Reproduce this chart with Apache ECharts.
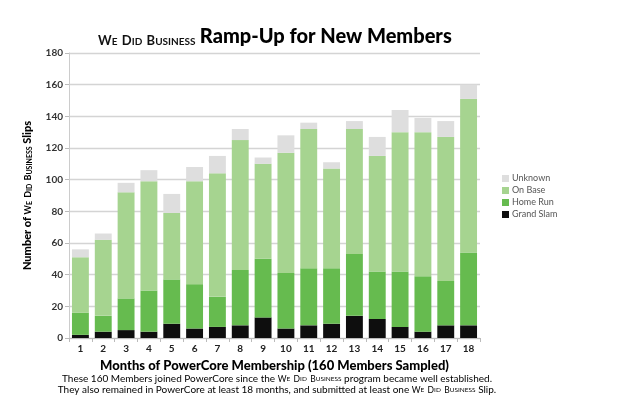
<!DOCTYPE html>
<html><head><meta charset="utf-8">
<script src="https://cdn.jsdelivr.net/npm/echarts@6/dist/echarts.min.js"></script>
<style>html,body{margin:0;padding:0;background:#fff}#c{width:642px;height:400px}</style>
</head><body><div id="c"></div>
<script>
const months = ['1','2','3','4','5','6','7','8','9','10','11','12','13','14','15','16','17','18'];
const grandSlam = [2,4,5,4,9,6,7,8,13,6,8,9,14,12,7,4,8,8];
const homeRun   = [14,10,20,26,28,28,19,35,37,35,36,35,39,30,35,35,28,46];
const onBase    = [35,48,67,69,42,65,78,82,60,76,88,63,79,73,88,91,91,97];
const unknown   = [5,4,6,7,12,9,11,7,4,11,4,4,5,12,14,9,10,9];
const legendOrder = ['Unknown','On Base','Home Run','Grand Slam'];
const yMin = 0, yMax = 180, yStep = 20;

const FONT = 'Lato';
const colors = {'Grand Slam':'#0e0e0e','Home Run':'#66bb4f','On Base':'#a6d490','Unknown':'#dedede'};
const chart = echarts.init(document.getElementById('c'));
const mk = (name, data) => ({
  name, type:'bar', stack:'s', data, barWidth:'74%',
  itemStyle:{color:colors[name]}, emphasis:{disabled:true}
});
const footRich = {
  n:{fontFamily:FONT,fontSize:10,color:'#111',lineHeight:11},
  a:{fontFamily:FONT,fontSize:8.5,color:'#111',lineHeight:11},
  b:{fontFamily:FONT,fontSize:6.5,color:'#111',lineHeight:11}
};
chart.setOption({
  animation:false,
  textStyle:{fontFamily:FONT},
  title:{
    left:93, top:18,
    text:'{a|W}{b|E} {a|D}{b|ID} {a|B}{b|USINESS} {t|Ramp-Up for New Members}',
    textStyle:{rich:{
      a:{fontFamily:FONT,fontWeight:'bold',fontSize:13,color:'#111',verticalAlign:'bottom',lineHeight:24},
      b:{fontFamily:FONT,fontWeight:'bold',fontSize:10,color:'#111',verticalAlign:'bottom',lineHeight:24},
      t:{fontFamily:FONT,fontWeight:900,fontSize:20,color:'#000',verticalAlign:'bottom',lineHeight:24}
    }}
  },
  legend:{
    data:legendOrder, orient:'vertical', left:497, top:169,
    itemWidth:7, itemHeight:7, itemGap:3, icon:'rect',
    textStyle:{fontFamily:FONT,fontSize:9,color:'#555',padding:[0,0,0,-2]}
  },
  grid:{left:69, right:162, top:53, bottom:62, containLabel:false},
  xAxis:{
    type:'category', data:months,
    axisLine:{lineStyle:{color:'#bbb'}},
    axisTick:{show:true,length:4,lineStyle:{color:'#bbb'}},
    axisLabel:{fontFamily:FONT,fontWeight:'bold',fontSize:10,color:'#222',margin:6},
    name:'Months of PowerCore Membership (160 Members Sampled)',
    nameLocation:'middle', nameGap:15,
    nameTextStyle:{fontFamily:FONT,fontWeight:900,fontSize:13,color:'#000'}
  },
  yAxis:{
    type:'value', min:yMin, max:yMax, interval:yStep,
    axisLine:{show:true,lineStyle:{color:'#ccc'}},
    axisTick:{show:true,length:4,lineStyle:{color:'#bbb'}},
    splitLine:{lineStyle:{color:'#d4d4d4',width:1.3}},
    axisLabel:{fontFamily:FONT,fontWeight:'bold',fontSize:10,color:'#333',margin:6},
    name:'{n|Number of }{a|W}{b|E} {a|D}{b|ID} {a|B}{b|USINESS}{n| Slips}',
    nameLocation:'middle', nameGap:36, nameRotate:90,
    nameTextStyle:{rich:{
      n:{fontFamily:FONT,fontWeight:900,fontSize:11,color:'#000',verticalAlign:'bottom',lineHeight:14},
      a:{fontFamily:FONT,fontWeight:'bold',fontSize:9,color:'#000',verticalAlign:'bottom',lineHeight:14},
      b:{fontFamily:FONT,fontWeight:'bold',fontSize:7,color:'#000',verticalAlign:'bottom',lineHeight:14}
    }}
  },
  graphic:[
    {type:'text', x:277, y:373, style:{
      text:'{n|These 160 Members joined PowerCore since the }{a|W}{b|E} {a|D}{b|ID} {a|B}{b|USINESS}{n| program became well established.}',
      align:'center', verticalAlign:'top', rich:footRich
    }},
    {type:'text', x:277, y:384, style:{
      text:'{n|They also remained in PowerCore at least 18 months, and submitted at least one }{a|W}{b|E} {a|D}{b|ID} {a|B}{b|USINESS}{n| Slip.}',
      align:'center', verticalAlign:'top', rich:footRich
    }}
  ],
  series:[mk('Grand Slam',grandSlam),mk('Home Run',homeRun),mk('On Base',onBase),mk('Unknown',unknown)]
});
</script></body></html>
